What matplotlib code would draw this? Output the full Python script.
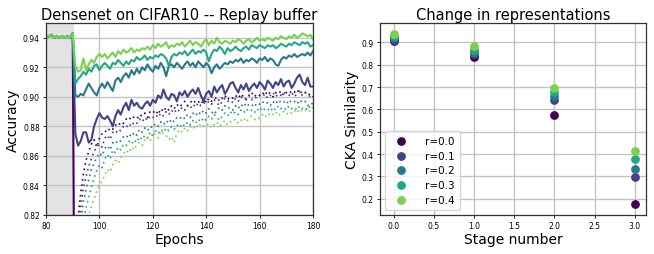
import numpy as np
import matplotlib
matplotlib.use("Agg")
import matplotlib.pyplot as plt

# ---- datos: precisión (Densenet en CIFAR10, replay buffer) ----
ratios = ["r=0.0", "r=0.1", "r=0.2", "r=0.3", "r=0.4"]

epocas_pre = list(range(80, 91))
epocas_post = list(range(91, 181))

acc_pre = [0.940, 0.941, 0.942, 0.940, 0.941, 0.940, 0.941, 0.940, 0.941, 0.940, 0.943]

# líneas sólidas (épocas 91-180)
solid_r00 = [
    0.640, 0.620, 0.610, 0.630, 0.650, 0.640, 0.660, 0.650, 0.670, 0.660,
    0.670, 0.680, 0.660, 0.680, 0.690, 0.670, 0.690, 0.680, 0.700, 0.690,
    0.700, 0.690, 0.710, 0.700, 0.690, 0.710, 0.700, 0.720, 0.710, 0.700,
    0.720, 0.710, 0.720, 0.700, 0.720, 0.710, 0.730, 0.720, 0.710, 0.730,
    0.720, 0.730, 0.710, 0.730, 0.720, 0.740, 0.730, 0.720, 0.740, 0.730,
    0.740, 0.720, 0.740, 0.730, 0.750, 0.740, 0.730, 0.740, 0.750, 0.740,
    0.750, 0.730, 0.750, 0.740, 0.760, 0.750, 0.740, 0.750, 0.760, 0.750,
    0.760, 0.740, 0.760, 0.750, 0.770, 0.760, 0.750, 0.760, 0.770, 0.760,
    0.770, 0.750, 0.770, 0.760, 0.780, 0.770, 0.760, 0.770, 0.780, 0.770,
]
solid_r01 = [
    0.875, 0.867, 0.870, 0.876, 0.876, 0.869, 0.871, 0.880, 0.885, 0.889,
    0.886, 0.885, 0.887, 0.884, 0.880, 0.887, 0.891, 0.888, 0.893, 0.896,
    0.891, 0.898, 0.894, 0.896, 0.893, 0.892, 0.895, 0.897, 0.894, 0.898,
    0.896, 0.901, 0.899, 0.905, 0.900, 0.898, 0.902, 0.901, 0.897, 0.903,
    0.901, 0.904, 0.900, 0.903, 0.905, 0.902, 0.906, 0.901, 0.897, 0.902,
    0.904, 0.900, 0.907, 0.903, 0.906, 0.908, 0.902, 0.905, 0.909, 0.910,
    0.906, 0.903, 0.908, 0.905, 0.909, 0.904, 0.907, 0.909, 0.906, 0.910,
    0.908, 0.905, 0.911, 0.909, 0.906, 0.910, 0.908, 0.912, 0.907, 0.910,
    0.911, 0.906, 0.909, 0.913, 0.915, 0.910, 0.908, 0.913, 0.907, 0.907,
]
solid_r02 = [
    0.901, 0.900, 0.902, 0.901, 0.905, 0.909, 0.906, 0.903, 0.901, 0.906,
    0.909, 0.906, 0.910, 0.907, 0.904, 0.911, 0.913, 0.910, 0.914, 0.916,
    0.913, 0.918, 0.915, 0.919, 0.916, 0.920, 0.918, 0.922, 0.919, 0.917,
    0.921, 0.919, 0.923, 0.920, 0.914, 0.921, 0.922, 0.920, 0.923, 0.921,
    0.919, 0.922, 0.924, 0.921, 0.923, 0.920, 0.924, 0.922, 0.920, 0.923,
    0.921, 0.916, 0.920, 0.922, 0.919, 0.921, 0.923, 0.922, 0.924, 0.923,
    0.925, 0.924, 0.926, 0.923, 0.925, 0.924, 0.926, 0.925, 0.923, 0.926,
    0.925, 0.927, 0.924, 0.926, 0.925, 0.922, 0.921, 0.925, 0.927, 0.926,
    0.928, 0.927, 0.929, 0.927, 0.928, 0.929, 0.928, 0.930, 0.928, 0.931,
]
solid_r03 = [
    0.909, 0.912, 0.914, 0.917, 0.915, 0.919, 0.917, 0.921, 0.922, 0.918,
    0.921, 0.923, 0.921, 0.919, 0.923, 0.922, 0.925, 0.923, 0.921, 0.924,
    0.922, 0.925, 0.924, 0.927, 0.925, 0.926, 0.928, 0.925, 0.927, 0.926,
    0.928, 0.927, 0.929, 0.928, 0.926, 0.921, 0.927, 0.929, 0.928, 0.930,
    0.929, 0.931, 0.928, 0.930, 0.932, 0.929, 0.931, 0.930, 0.932, 0.930,
    0.924, 0.929, 0.932, 0.931, 0.934, 0.932, 0.929, 0.933, 0.931, 0.932,
    0.934, 0.932, 0.931, 0.933, 0.934, 0.932, 0.935, 0.934, 0.933, 0.935,
    0.934, 0.933, 0.935, 0.934, 0.935, 0.933, 0.934, 0.936, 0.935, 0.934,
    0.936, 0.935, 0.937, 0.936, 0.935, 0.937, 0.936, 0.937, 0.934, 0.935,
]
solid_r04 = [
    0.921, 0.917, 0.918, 0.926, 0.918, 0.922, 0.925, 0.923, 0.927, 0.929,
    0.927, 0.929, 0.926, 0.928, 0.930, 0.927, 0.931, 0.929, 0.932, 0.930,
    0.931, 0.933, 0.930, 0.932, 0.931, 0.933, 0.932, 0.934, 0.932, 0.935,
    0.933, 0.936, 0.934, 0.935, 0.937, 0.933, 0.935, 0.934, 0.936, 0.935,
    0.937, 0.934, 0.936, 0.938, 0.935, 0.937, 0.936, 0.934, 0.937, 0.939,
    0.935, 0.938, 0.936, 0.940, 0.937, 0.936, 0.938, 0.937, 0.936, 0.938,
    0.937, 0.939, 0.938, 0.936, 0.938, 0.939, 0.937, 0.938, 0.940, 0.938,
    0.939, 0.938, 0.940, 0.939, 0.938, 0.940, 0.939, 0.941, 0.940, 0.939,
    0.941, 0.940, 0.942, 0.940, 0.941, 0.943, 0.942, 0.941, 0.942, 0.939,
]

# líneas punteadas (épocas 91-180)
dotted_r00 = [
    0.790, 0.818, 0.835, 0.848, 0.857, 0.863, 0.868, 0.871, 0.866, 0.872,
    0.875, 0.877, 0.876, 0.879, 0.878, 0.881, 0.880, 0.883, 0.882, 0.885,
    0.884, 0.887, 0.886, 0.885, 0.888, 0.887, 0.889, 0.886, 0.890, 0.889,
    0.891, 0.888, 0.892, 0.890, 0.893, 0.891, 0.894, 0.892, 0.895, 0.893,
    0.895, 0.897, 0.894, 0.896, 0.898, 0.896, 0.897, 0.895, 0.898, 0.896,
    0.899, 0.897, 0.898, 0.900, 0.897, 0.899, 0.901, 0.898, 0.900, 0.899,
    0.901, 0.899, 0.902, 0.900, 0.898, 0.901, 0.903, 0.900, 0.902, 0.901,
    0.903, 0.901, 0.904, 0.902, 0.900, 0.903, 0.902, 0.904, 0.901, 0.903,
    0.902, 0.904, 0.903, 0.905, 0.902, 0.904, 0.903, 0.901, 0.902, 0.900,
]
dotted_r01 = [
    0.780, 0.808, 0.826, 0.838, 0.846, 0.853, 0.858, 0.863, 0.866, 0.868,
    0.866, 0.872, 0.874, 0.871, 0.876, 0.875, 0.878, 0.877, 0.880, 0.879,
    0.882, 0.880, 0.883, 0.882, 0.885, 0.883, 0.886, 0.884, 0.887, 0.886,
    0.888, 0.886, 0.889, 0.887, 0.890, 0.888, 0.891, 0.889, 0.892, 0.890,
    0.893, 0.891, 0.894, 0.892, 0.895, 0.893, 0.896, 0.894, 0.896, 0.895,
    0.897, 0.895, 0.898, 0.896, 0.894, 0.897, 0.899, 0.897, 0.898, 0.896,
    0.899, 0.897, 0.900, 0.898, 0.899, 0.901, 0.898, 0.900, 0.899, 0.901,
    0.900, 0.902, 0.899, 0.901, 0.903, 0.900, 0.902, 0.901, 0.903, 0.902,
    0.901, 0.903, 0.900, 0.902, 0.904, 0.901, 0.903, 0.902, 0.900, 0.901,
]
dotted_r02 = [
    0.770, 0.798, 0.816, 0.829, 0.837, 0.844, 0.851, 0.855, 0.859, 0.862,
    0.860, 0.865, 0.867, 0.864, 0.869, 0.868, 0.871, 0.870, 0.873, 0.872,
    0.875, 0.873, 0.876, 0.874, 0.878, 0.876, 0.879, 0.877, 0.880, 0.879,
    0.882, 0.880, 0.883, 0.881, 0.884, 0.882, 0.885, 0.883, 0.886, 0.885,
    0.887, 0.885, 0.888, 0.886, 0.889, 0.887, 0.890, 0.888, 0.891, 0.889,
    0.892, 0.890, 0.888, 0.891, 0.893, 0.891, 0.894, 0.892, 0.893, 0.891,
    0.894, 0.892, 0.895, 0.893, 0.896, 0.894, 0.895, 0.893, 0.896, 0.895,
    0.897, 0.895, 0.896, 0.894, 0.897, 0.895, 0.898, 0.896, 0.897, 0.895,
    0.898, 0.896, 0.897, 0.895, 0.898, 0.896, 0.897, 0.894, 0.896, 0.895,
]
dotted_r03 = [
    0.760, 0.788, 0.805, 0.817, 0.825, 0.832, 0.839, 0.845, 0.850, 0.854,
    0.852, 0.858, 0.861, 0.858, 0.864, 0.862, 0.866, 0.864, 0.868, 0.867,
    0.870, 0.868, 0.871, 0.869, 0.873, 0.871, 0.874, 0.872, 0.876, 0.874,
    0.877, 0.875, 0.878, 0.876, 0.879, 0.877, 0.880, 0.878, 0.881, 0.879,
    0.882, 0.880, 0.883, 0.881, 0.884, 0.882, 0.885, 0.883, 0.886, 0.884,
    0.887, 0.885, 0.888, 0.886, 0.884, 0.887, 0.889, 0.887, 0.890, 0.888,
    0.890, 0.888, 0.891, 0.889, 0.892, 0.890, 0.891, 0.889, 0.892, 0.890,
    0.893, 0.891, 0.892, 0.890, 0.893, 0.891, 0.894, 0.892, 0.893, 0.891,
    0.894, 0.892, 0.893, 0.891, 0.894, 0.892, 0.893, 0.891, 0.894, 0.893,
]
dotted_r04 = [
    0.740, 0.765, 0.785, 0.800, 0.812, 0.820, 0.826, 0.831, 0.836, 0.840,
    0.843, 0.847, 0.851, 0.849, 0.854, 0.857, 0.855, 0.859, 0.861, 0.864,
    0.862, 0.866, 0.864, 0.868, 0.869, 0.867, 0.871, 0.873, 0.870, 0.876,
    0.874, 0.872, 0.877, 0.875, 0.874, 0.871, 0.873, 0.869, 0.875, 0.878,
    0.876, 0.879, 0.877, 0.880, 0.878, 0.881, 0.879, 0.882, 0.880, 0.880,
    0.882, 0.879, 0.881, 0.883, 0.880, 0.882, 0.884, 0.881, 0.883, 0.883,
    0.885, 0.882, 0.884, 0.886, 0.883, 0.885, 0.887, 0.885, 0.884, 0.886,
    0.888, 0.886, 0.889, 0.887, 0.888, 0.890, 0.887, 0.889, 0.890, 0.888,
    0.890, 0.889, 0.891, 0.889, 0.892, 0.890, 0.891, 0.892, 0.890, 0.893,
]

# ---- datos: similitud CKA por etapa ----
etapas = [0, 1, 2, 3]
cka_r00 = [0.905, 0.836, 0.576, 0.177]
cka_r01 = [0.913, 0.848, 0.640, 0.296]
cka_r02 = [0.920, 0.858, 0.660, 0.333]
cka_r03 = [0.928, 0.868, 0.676, 0.377]
cka_r04 = [0.939, 0.882, 0.694, 0.415]

solidas = [solid_r00, solid_r01, solid_r02, solid_r03, solid_r04]
punteadas = [dotted_r00, dotted_r01, dotted_r02, dotted_r03, dotted_r04]
ckas = [cka_r00, cka_r01, cka_r02, cka_r03, cka_r04]
colores = plt.cm.viridis(np.linspace(0, 0.8, 5))


def estilo_ejes(ax):
    ax.grid(True, color="#c4c4c4", linewidth=1.0)
    ax.set_axisbelow(True)
    ax.tick_params(labelsize=5.5, length=2.5, width=0.6, pad=2)
    for s in ax.spines.values():
        s.set_color("#333333")
        s.set_linewidth(0.9)


fig = plt.figure(figsize=(6.54, 2.55), dpi=100)
ax1 = fig.add_axes([46 / 654, 39 / 255, 267 / 654, 192 / 255])
ax2 = fig.add_axes([380 / 654, 39 / 255, 266 / 654, 192 / 255])

# panel izquierdo
ax1.axvspan(80, 90, color="#e3e3e3", zorder=0)
for i in range(5):
    ax1.plot(epocas_pre + epocas_post, acc_pre + solidas[i], color=colores[i], linewidth=1.5)
for i in range(5):
    ax1.plot(epocas_post, punteadas[i], color=colores[i], linewidth=1.2,
             linestyle=(0, (1, 2.2)))
ax1.set_xlim(80, 180)
ax1.set_ylim(0.82, 0.95)
ax1.set_yticks([0.82, 0.84, 0.86, 0.88, 0.90, 0.92, 0.94])
ax1.set_xticks([80, 100, 120, 140, 160, 180])
ax1.set_title("Densenet on CIFAR10 -- Replay buffer", fontsize=10.5, pad=3)
ax1.set_xlabel("Epochs", fontsize=10, labelpad=1)
ax1.set_ylabel("Accuracy", fontsize=10, labelpad=2)
estilo_ejes(ax1)

# panel derecho
for i in range(5):
    ax2.scatter(etapas, ckas[i], color=colores[i], s=28, label=ratios[i], zorder=3)
ax2.set_xlim(-0.17, 3.14)
ax2.set_ylim(0.127, 0.987)
ax2.set_xticks([0.0, 0.5, 1.0, 1.5, 2.0, 2.5, 3.0])
ax2.set_yticks([0.2, 0.3, 0.4, 0.5, 0.6, 0.7, 0.8, 0.9])
ax2.set_title("Change in representations", fontsize=10.5, pad=3)
ax2.set_xlabel("Stage number", fontsize=10, labelpad=1)
ax2.set_ylabel("CKA Similarity", fontsize=10, labelpad=2)
ax2.legend(loc="lower left", fontsize=7.5, frameon=True, handletextpad=1.3,
           borderpad=0.5, labelspacing=0.45, scatterpoints=1)
estilo_ejes(ax2)

fig.savefig("out.png", dpi=100)
